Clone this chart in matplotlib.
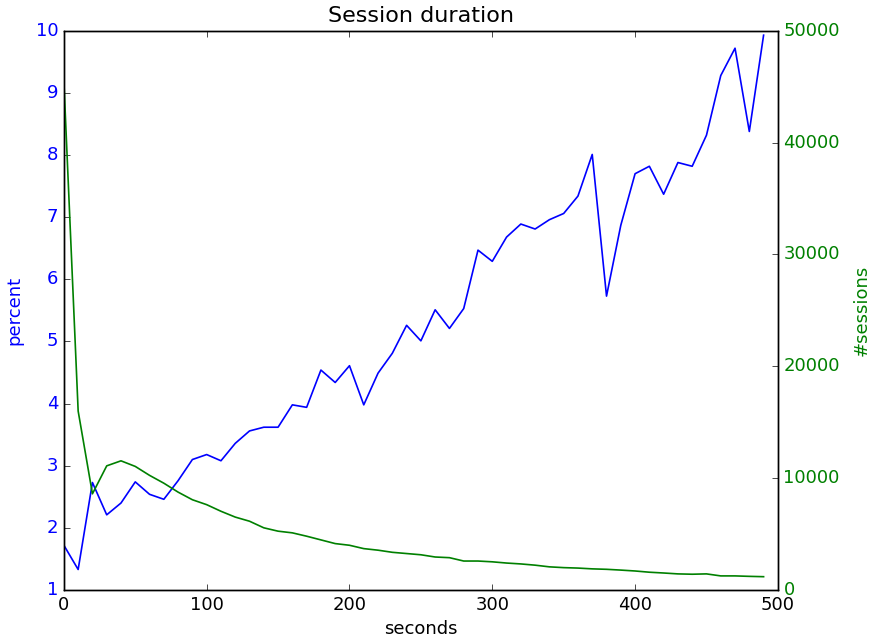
import matplotlib
matplotlib.use('Agg')
import matplotlib.pyplot as plt

plt.style.use('classic')
plt.rcParams['font.size'] = 13

# seconds bins (10 s wide)
seconds = list(range(0, 500, 10))

# share of sessions ending in each bin, percent
percent = [1.72, 1.33, 2.73, 2.21, 2.40, 2.74, 2.54, 2.46, 2.76, 3.10,
           3.18, 3.08, 3.36, 3.56, 3.62, 3.62, 3.98, 3.94, 4.54, 4.34,
           4.61, 3.98, 4.49, 4.81, 5.26, 5.01, 5.51, 5.21, 5.53, 6.47,
           6.29, 6.68, 6.89, 6.81, 6.96, 7.06, 7.34, 8.01, 5.73, 6.87,
           7.70, 7.82, 7.37, 7.88, 7.82, 8.32, 9.28, 9.72, 8.38, 9.93]

# number of sessions lasting at least that long
sessions = [45500, 16000, 8600, 11100, 11550, 11050, 10250, 9550, 8750, 8070,
            7630, 7040, 6520, 6150, 5560, 5260, 5110, 4810, 4480, 4150,
            4000, 3700, 3560, 3370, 3260, 3150, 2950, 2890, 2590, 2590,
            2520, 2410, 2330, 2220, 2070, 2000, 1960, 1890, 1850, 1780,
            1700, 1590, 1520, 1440, 1410, 1440, 1260, 1260, 1220, 1190]

fig = plt.figure(figsize=(8.75, 6.42), dpi=100)
ax = fig.add_axes([0.073, 0.081, 0.816, 0.871])
ax.plot(seconds, percent, color='b', linewidth=1.2)
ax.set_xlim(0, 500)
ax.set_ylim(1, 10)
ax.set_xlabel('seconds')
ax.set_ylabel('percent', color='b', labelpad=9)
for t in ax.get_yticklabels():
    t.set_color('b')
ax.set_title('Session duration', fontsize=16, y=1.003)

ax2 = ax.twinx()
ax2.plot(seconds, sessions, color='g', linewidth=1.2)
ax2.set_xlim(0, 500)
ax2.set_ylim(0, 50000)
ax2.set_ylabel('#sessions', color='g', labelpad=9)
for t in ax2.get_yticklabels():
    t.set_color('g')

fig.savefig('out.png', dpi=100)
